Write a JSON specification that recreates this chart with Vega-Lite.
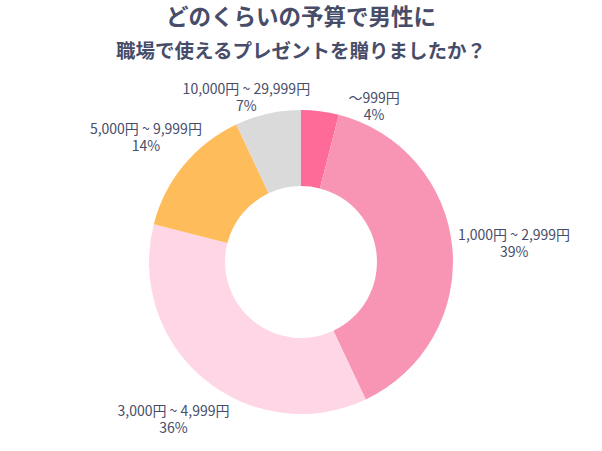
{
  "$schema": "https://vega.github.io/schema/vega-lite/v6.json",
  "width": 602,
  "height": 378,
  "autosize": {"type": "none"},
  "padding": {"top": 73, "left": 0, "right": 0, "bottom": 0},
  "background": "white",
  "view": {"stroke": null},
  "title": {
    "text": "どのくらいの予算で男性に",
    "subtitle": "職場で使えるプレゼントを贈りましたか？",
    "font": "Noto Sans CJK JP",
    "subtitleFont": "Noto Sans CJK JP",
    "fontSize": 22.5,
    "subtitleFontSize": 19.5,
    "fontWeight": "bold",
    "subtitleFontWeight": "bold",
    "color": "#474D69",
    "subtitleColor": "#474D69",
    "anchor": "middle",
    "offset": 12,
    "subtitlePadding": 13
  },
  "data": {
    "values": [
      {"idx": 1, "range": "～999円", "pct": 4},
      {"idx": 2, "range": "1,000円 ~ 2,999円", "pct": 39},
      {"idx": 3, "range": "3,000円 ~ 4,999円", "pct": 36},
      {"idx": 4, "range": "5,000円 ~ 9,999円", "pct": 14},
      {"idx": 5, "range": "10,000円 ~ 29,999円", "pct": 7}
    ]
  },
  "transform": [
    {"stack": "pct", "groupby": [], "sort": [{"field": "idx"}], "as": ["s0", "s1"]},
    {"calculate": "(datum.s0 + datum.s1) / 2", "as": "mid"},
    {"calculate": "datum.range + '\\n' + datum.pct + '%'", "as": "lbl"}
  ],
  "layer": [
    {
      "mark": {"type": "arc", "outerRadius": 152, "innerRadius": 76},
      "encoding": {
        "theta": {"field": "s0", "type": "quantitative", "scale": {"domain": [0, 100]}},
        "theta2": {"field": "s1"},
        "color": {
          "field": "range",
          "type": "nominal",
          "scale": {
            "domain": ["～999円", "1,000円 ~ 2,999円", "3,000円 ~ 4,999円", "5,000円 ~ 9,999円", "10,000円 ~ 29,999円"],
            "range": ["#FF6B99", "#F895B4", "#FFD6E5", "#FFBC5B", "#DADADA"]
          },
          "legend": null
        }
      }
    },
    {
      "transform": [{"filter": "datum.idx == 1"}],
      "mark": {"type": "text", "radius": 200, "dx": 48, "dy": 35, "font": "Noto Sans CJK JP", "fontSize": 14, "lineHeight": 17, "color": "#474D69", "align": "center", "baseline": "middle", "lineBreak": "\n"},
      "encoding": {"theta": {"field": "mid", "type": "quantitative", "scale": {"domain": [0, 100]}}, "text": {"field": "lbl"}}
    },
    {
      "transform": [{"filter": "datum.idx == 2"}],
      "mark": {"type": "text", "radius": 200, "dx": 14, "dy": -7, "font": "Noto Sans CJK JP", "fontSize": 14, "lineHeight": 17, "color": "#474D69", "align": "center", "baseline": "middle", "lineBreak": "\n"},
      "encoding": {"theta": {"field": "mid", "type": "quantitative", "scale": {"domain": [0, 100]}}, "text": {"field": "lbl"}}
    },
    {
      "transform": [{"filter": "datum.idx == 3"}],
      "mark": {"type": "text", "radius": 200, "dx": 0, "dy": -4, "font": "Noto Sans CJK JP", "fontSize": 14, "lineHeight": 17, "color": "#474D69", "align": "center", "baseline": "middle", "lineBreak": "\n"},
      "encoding": {"theta": {"field": "mid", "type": "quantitative", "scale": {"domain": [0, 100]}}, "text": {"field": "lbl"}}
    },
    {
      "transform": [{"filter": "datum.idx == 4"}],
      "mark": {"type": "text", "radius": 200, "dx": -1, "dy": -5, "font": "Noto Sans CJK JP", "fontSize": 14, "lineHeight": 17, "color": "#474D69", "align": "center", "baseline": "middle", "lineBreak": "\n"},
      "encoding": {"theta": {"field": "mid", "type": "quantitative", "scale": {"domain": [0, 100]}}, "text": {"field": "lbl"}}
    },
    {
      "transform": [{"filter": "datum.idx == 5"}],
      "mark": {"type": "text", "radius": 200, "dx": -11, "dy": 23, "font": "Noto Sans CJK JP", "fontSize": 14, "lineHeight": 17, "color": "#474D69", "align": "center", "baseline": "middle", "lineBreak": "\n"},
      "encoding": {"theta": {"field": "mid", "type": "quantitative", "scale": {"domain": [0, 100]}}, "text": {"field": "lbl"}}
    }
  ]
}
